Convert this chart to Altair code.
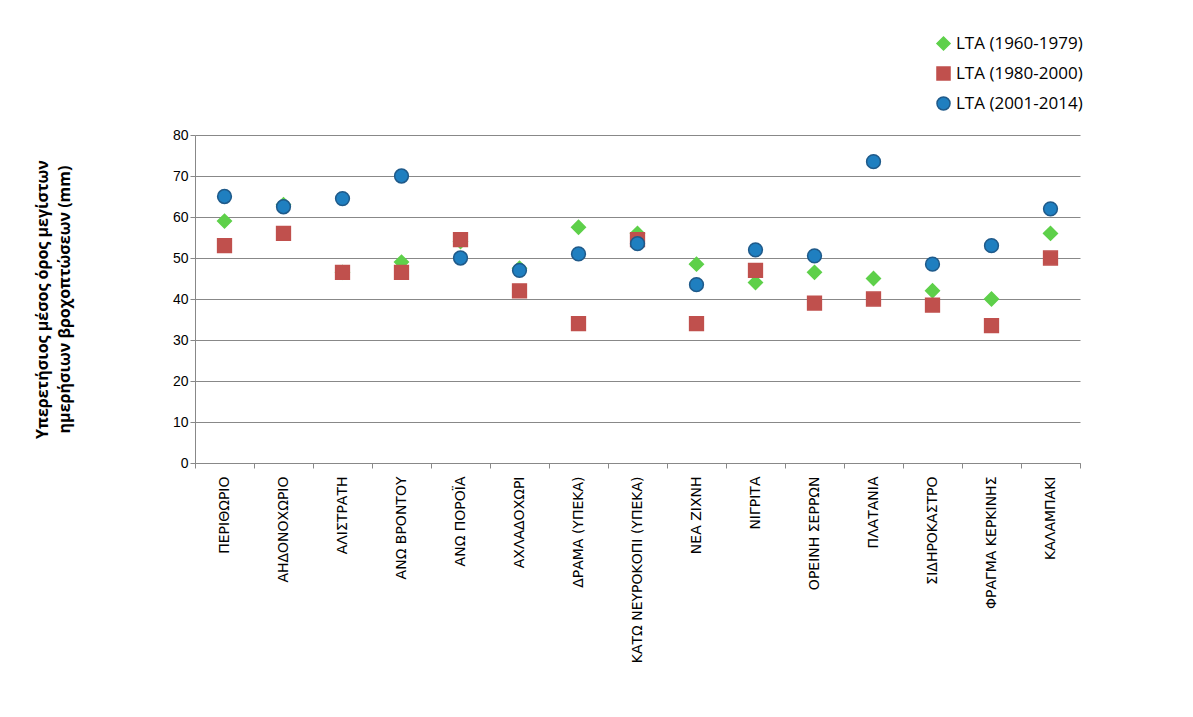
import altair as alt
import pandas as pd

stations = ["ΠΕΡΙΘΩΡΙΟ", "ΑΗΔΟΝΟΧΩΡΙΟ", "ΑΛΙΣΤΡΑΤΗ", "ΑΝΩ ΒΡΟΝΤΟΥ", "ΑΝΩ ΠΟΡΟΪΑ",
            "ΑΧΛΑΔΟΧΩΡΙ", "ΔΡΑΜΑ (ΥΠΕΚΑ)", "ΚΑΤΩ ΝΕΥΡΟΚΟΠΙ (ΥΠΕΚΑ)", "ΝΕΑ ΖΙΧΝΗ",
            "ΝΙΓΡΙΤΑ", "ΟΡΕΙΝΗ ΣΕΡΡΩΝ", "ΠΛΑΤΑΝΙΑ", "ΣΙΔΗΡΟΚΑΣΤΡΟ",
            "ΦΡΑΓΜΑ ΚΕΡΚΙΝΗΣ", "ΚΑΛΑΜΠΑΚΙ"]
lta_1960 = [59, 63, 46.5, 49, 54, 47.5, 57.5, 56, 48.5, 44, 46.5, 45, 42, 40, 56]
lta_1980 = [53, 56, 46.5, 46.5, 54.5, 42, 34, 54.5, 34, 47, 39, 40, 38.5, 33.5, 50]
lta_2001 = [65, 62.5, 64.5, 70, 50, 47, 51, 53.5, 43.5, 52, 50.5, 73.5, 48.5, 53, 62]

series = ["LTA (1960-1979)", "LTA (1980-2000)", "LTA (2001-2014)"]
rows = []
for s, vals in zip(series, [lta_1960, lta_1980, lta_2001]):
    for st, v in zip(stations, vals):
        rows.append({"station": st, "value": v, "series": s})
df = pd.DataFrame(rows)

chart = (
    alt.Chart(df)
    .mark_point(filled=True, size=190, opacity=1, strokeWidth=1.5)
    .encode(
        x=alt.X("station:N", sort=stations, title=None,
                scale=alt.Scale(paddingInner=0, paddingOuter=0),
                axis=alt.Axis(labelAngle=270, labelFont="DejaVu Sans", labelFontSize=14,
                              labelColor="black", domainColor="#888", tickColor="#888",
                              tickBand="extent", labelPadding=8, labelLimit=300)),
        y=alt.Y("value:Q", scale=alt.Scale(domain=[0, 80]),
                title=["Υπερετήσιος μέσος όρος μεγίστων", "ημερήσιων βροχοπτώσεων  (mm)"],
                axis=alt.Axis(values=list(range(0, 81, 10)), labelFont="Liberation Sans",
                              labelFontSize=14, labelColor="black", domainColor="#888",
                              tickColor="#888", gridColor="#888", titleFont="Open Sans",
                              titleFontSize=16, titleFontWeight="bold", titlePadding=100,
                              titleColor="black", titleLineHeight=22)),
        color=alt.Color("series:N", scale=alt.Scale(domain=series,
                        range=["#5ed04a", "#c0504d", "#1f7fc0"]),
                        legend=alt.Legend(title=None, orient="none", legendX=740,
                                          legendY=-100, labelFont="Open Sans",
                                          labelFontSize=17, symbolSize=170, rowPadding=9)),
        shape=alt.Shape("series:N", scale=alt.Scale(domain=series,
                        range=["diamond", "square", "circle"])),
        stroke=alt.Stroke("series:N", scale=alt.Scale(domain=series,
                          range=["#5ed04a", "#c0504d", "#1f5a8a"]), legend=None),
    )
    .properties(width=885, height=328, padding={"left": 187, "top": 127, "right": 100, "bottom": 250},
                autosize=alt.AutoSizeParams(type="none"))
    .configure_view(stroke=None)
)

chart.save("out.html", embed_options={"renderer": "svg", "actions": False})
